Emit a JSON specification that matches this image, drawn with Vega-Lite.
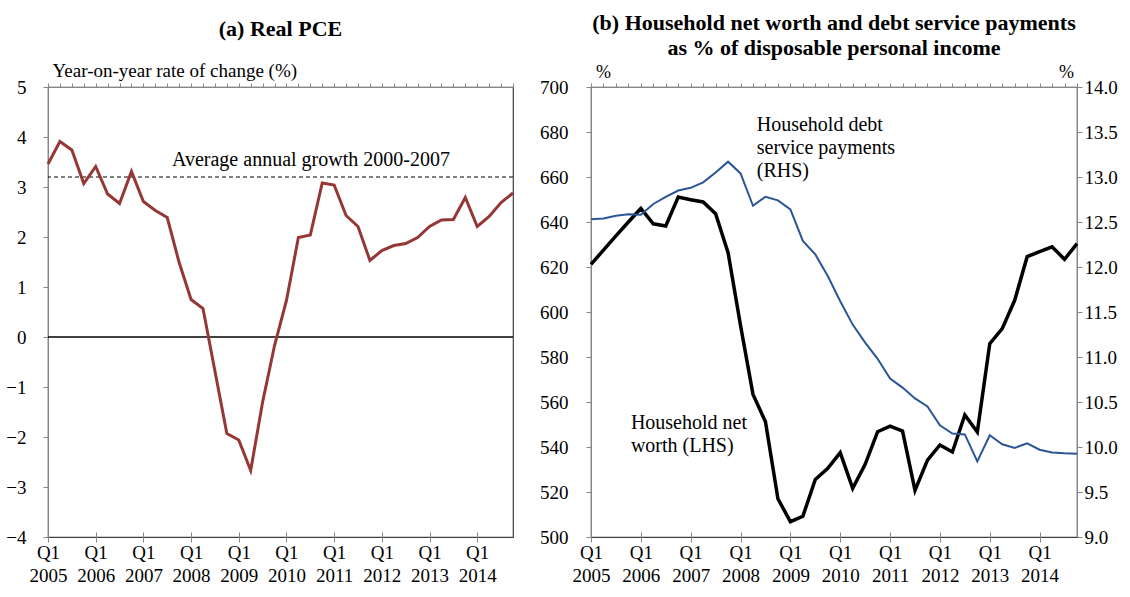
{
  "$schema": "https://vega.github.io/schema/vega-lite/v6.json",
  "padding": {"left": 5, "top": 11, "right": 5, "bottom": 5},
  "background": "white",
  "bounds": "flush",
  "spacing": 78,
  "config": {
    "font": "Liberation Serif",
    "view": {"stroke": "#404040", "strokeWidth": 1.2},
    "style": {"guide-label": {"font": "Liberation Serif"}, "guide-title": {"font": "Liberation Serif"}, "group-title": {"font": "Liberation Serif"}},
    "axis": {"grid": false, "domainColor": "#868686", "tickColor": "#868686", "labelColor": "#000", "labelFontSize": 19, "labelFont": "Liberation Serif", "titleFont": "Liberation Serif", "titleFontWeight": "normal", "titleColor": "#000", "labelOverlap": false, "labelFlush": false, "labelBound": false},
    "title": {"font": "Liberation Serif", "fontSize": 22, "fontWeight": "bold", "color": "#000"},
    "text": {"font": "Liberation Serif", "color": "#000"}
  },
  "datasets": {
    "pce": [
      {"i": 0, "pce": 3.46}, {"i": 1, "pce": 3.91}, {"i": 2, "pce": 3.74}, {"i": 3, "pce": 3.07},
      {"i": 4, "pce": 3.41}, {"i": 5, "pce": 2.86}, {"i": 6, "pce": 2.67}, {"i": 7, "pce": 3.31},
      {"i": 8, "pce": 2.71}, {"i": 9, "pce": 2.53}, {"i": 10, "pce": 2.39}, {"i": 11, "pce": 1.49},
      {"i": 12, "pce": 0.75}, {"i": 13, "pce": 0.57}, {"i": 14, "pce": -0.68}, {"i": 15, "pce": -1.93},
      {"i": 16, "pce": -2.06}, {"i": 17, "pce": -2.67}, {"i": 18, "pce": -1.3}, {"i": 19, "pce": -0.17},
      {"i": 20, "pce": 0.73}, {"i": 21, "pce": 1.99}, {"i": 22, "pce": 2.04}, {"i": 23, "pce": 3.08},
      {"i": 24, "pce": 3.04}, {"i": 25, "pce": 2.43}, {"i": 26, "pce": 2.21}, {"i": 27, "pce": 1.53},
      {"i": 28, "pce": 1.73}, {"i": 29, "pce": 1.83}, {"i": 30, "pce": 1.87}, {"i": 31, "pce": 1.99},
      {"i": 32, "pce": 2.21}, {"i": 33, "pce": 2.34}, {"i": 34, "pce": 2.35}, {"i": 35, "pce": 2.79},
      {"i": 36, "pce": 2.21}, {"i": 37, "pce": 2.41}, {"i": 38, "pce": 2.69}, {"i": 39, "pce": 2.88}
    ],
    "nw": [
      {"i": 0, "nw": 621.2}, {"i": 1, "nw": 627.5}, {"i": 2, "nw": 633.8}, {"i": 3, "nw": 640.0},
      {"i": 4, "nw": 646.0}, {"i": 5, "nw": 639.2}, {"i": 6, "nw": 638.2}, {"i": 7, "nw": 651.1},
      {"i": 8, "nw": 649.9}, {"i": 9, "nw": 648.9}, {"i": 10, "nw": 643.7}, {"i": 11, "nw": 626.4},
      {"i": 12, "nw": 594.0}, {"i": 13, "nw": 563.4}, {"i": 14, "nw": 551.2}, {"i": 15, "nw": 517.0},
      {"i": 16, "nw": 506.8}, {"i": 17, "nw": 509.2}, {"i": 18, "nw": 525.6}, {"i": 19, "nw": 530.5},
      {"i": 20, "nw": 537.5}, {"i": 21, "nw": 521.6}, {"i": 22, "nw": 532.3}, {"i": 23, "nw": 546.8},
      {"i": 24, "nw": 549.3}, {"i": 25, "nw": 547.1}, {"i": 26, "nw": 520.7}, {"i": 27, "nw": 534.2},
      {"i": 28, "nw": 540.9}, {"i": 29, "nw": 537.8}, {"i": 30, "nw": 554.2}, {"i": 31, "nw": 546.7},
      {"i": 32, "nw": 585.9}, {"i": 33, "nw": 592.6}, {"i": 34, "nw": 605.2}, {"i": 35, "nw": 624.6},
      {"i": 36, "nw": 626.8}, {"i": 37, "nw": 629.0}, {"i": 38, "nw": 623.4}, {"i": 39, "nw": 630.4}
    ],
    "dsp": [
      {"i": 0, "dsp": 12.53}, {"i": 1, "dsp": 12.54}, {"i": 2, "dsp": 12.57}, {"i": 3, "dsp": 12.585},
      {"i": 4, "dsp": 12.58}, {"i": 5, "dsp": 12.70}, {"i": 6, "dsp": 12.78}, {"i": 7, "dsp": 12.85},
      {"i": 8, "dsp": 12.88}, {"i": 9, "dsp": 12.94}, {"i": 10, "dsp": 13.05}, {"i": 11, "dsp": 13.17},
      {"i": 12, "dsp": 13.04}, {"i": 13, "dsp": 12.68}, {"i": 14, "dsp": 12.78}, {"i": 15, "dsp": 12.74},
      {"i": 16, "dsp": 12.64}, {"i": 17, "dsp": 12.29}, {"i": 18, "dsp": 12.14}, {"i": 19, "dsp": 11.90},
      {"i": 20, "dsp": 11.62}, {"i": 21, "dsp": 11.36}, {"i": 22, "dsp": 11.16}, {"i": 23, "dsp": 10.98},
      {"i": 24, "dsp": 10.76}, {"i": 25, "dsp": 10.66}, {"i": 26, "dsp": 10.54}, {"i": 27, "dsp": 10.45},
      {"i": 28, "dsp": 10.24}, {"i": 29, "dsp": 10.15}, {"i": 30, "dsp": 10.14}, {"i": 31, "dsp": 9.84},
      {"i": 32, "dsp": 10.13}, {"i": 33, "dsp": 10.03}, {"i": 34, "dsp": 9.99}, {"i": 35, "dsp": 10.04},
      {"i": 36, "dsp": 9.97}, {"i": 37, "dsp": 9.94}, {"i": 38, "dsp": 9.93}, {"i": 39, "dsp": 9.925}
    ]
  },
  "hconcat": [
    {
      "width": 465,
      "height": 450,
      "title": {"text": "(a) Real PCE", "offset": 20},
      "layer": [
        {
          "data": {"values": [{}]},
          "mark": {"type": "rule", "color": "#000", "strokeWidth": 1.3},
          "encoding": {"y": {"datum": 0, "type": "quantitative", "scale": {"domain": [-4, 5], "nice": false},
            "axis": {"values": [-4, -3, -2, -1, 0, 1, 2, 3, 4, 5], "tickSize": 5, "labelPadding": 17, "labelFont": "Liberation Serif", "title": "Year-on-year rate of change (%)", "titleAngle": 0, "titleAlign": "left", "titleBaseline": "alphabetic", "titleX": 4, "titleY": -11, "titleFontSize": 19}}}
        },
        {
          "data": {"values": [{}]},
          "mark": {"type": "rule", "color": "#000", "strokeWidth": 1, "strokeDash": [4, 3]},
          "encoding": {"y": {"datum": 3.2, "type": "quantitative", "scale": {"domain": [-4, 5], "nice": false},
            "axis": {"values": [-4, -3, -2, -1, 0, 1, 2, 3, 4, 5], "tickSize": 5, "labelPadding": 17, "labelFont": "Liberation Serif", "title": "Year-on-year rate of change (%)", "titleAngle": 0, "titleAlign": "left", "titleBaseline": "alphabetic", "titleX": 4, "titleY": -11, "titleFontSize": 19}}}
        },
        {
          "data": {"name": "pce"},
          "mark": {"type": "line", "color": "#953735", "strokeWidth": 3},
          "encoding": {
            "x": {"field": "i", "type": "quantitative", "scale": {"domain": [0, 39], "nice": false},
              "axis": {"values": [0, 4, 8, 12, 16, 20, 24, 28, 32, 36], "domain": false, "tickSize": 10, "offset": -5, "labelPadding": 1, "labelFont": "Liberation Serif", "labelExpr": "['Q1', '' + (2005 + datum.value / 4)]", "labelLineHeight": 23, "labelBaseline": "top", "title": null}},
            "y": {"field": "pce", "type": "quantitative", "scale": {"domain": [-4, 5], "nice": false},
              "axis": {"values": [-4, -3, -2, -1, 0, 1, 2, 3, 4, 5], "tickSize": 5, "labelPadding": 17, "labelFont": "Liberation Serif", "title": "Year-on-year rate of change (%)", "titleAngle": 0, "titleAlign": "left", "titleBaseline": "alphabetic", "titleX": 4, "titleY": -11, "titleFontSize": 19}}
          }
        },
        {
          "data": {"values": [{}]},
          "mark": {"type": "text", "text": "Average annual growth 2000-2007", "align": "left", "baseline": "alphabetic", "fontSize": 20},
          "encoding": {
            "x": {"datum": 10.4, "type": "quantitative", "scale": {"domain": [0, 39], "nice": false},
              "axis": {"values": [0, 1, 2, 3, 4, 5, 6, 7, 8, 9, 10, 11, 12, 13, 14, 15, 16, 17, 18, 19, 20, 21, 22, 23, 24, 25, 26, 27, 28, 29, 30, 31, 32, 33, 34, 35, 36, 37, 38, 39], "tickSize": 4, "labels": false, "title": null}},
            "y": {"datum": 3.42, "type": "quantitative", "scale": {"domain": [-4, 5], "nice": false},
              "axis": {"values": [-4, -3, -2, -1, 0, 1, 2, 3, 4, 5], "tickSize": 5, "labelPadding": 17, "labelFont": "Liberation Serif", "title": "Year-on-year rate of change (%)", "titleAngle": 0, "titleAlign": "left", "titleBaseline": "alphabetic", "titleX": 4, "titleY": -11, "titleFontSize": 19}}
          }
        }
      ],
      "resolve": {"axis": {"x": "independent"}}
    },
    {
      "width": 486,
      "height": 450,
      "title": {"text": ["(b) Household net worth and debt service payments", "as % of disposable personal income"], "lineHeight": 25, "offset": 3},
      "layer": [
        {
          "data": {"name": "nw"},
          "mark": {"type": "line", "color": "#000", "strokeWidth": 3.5},
          "encoding": {
            "x": {"field": "i", "type": "quantitative", "scale": {"domain": [0, 39], "nice": false},
              "axis": {"values": [0, 4, 8, 12, 16, 20, 24, 28, 32, 36], "domain": false, "tickSize": 10, "offset": -5, "labelPadding": 1, "labelFont": "Liberation Serif", "labelExpr": "['Q1', '' + (2005 + datum.value / 4)]", "labelLineHeight": 23, "labelBaseline": "top", "title": null}},
            "y": {"field": "nw", "type": "quantitative", "scale": {"domain": [500, 700], "nice": false},
              "axis": {"orient": "left", "values": [500, 520, 540, 560, 580, 600, 620, 640, 660, 680, 700], "tickSize": 5, "labelPadding": 18, "labelFont": "Liberation Serif", "title": "%", "titleAngle": 0, "titleAlign": "center", "titleBaseline": "alphabetic", "titleX": 12, "titleY": -10, "titleFontSize": 18}}
          }
        },
        {
          "data": {"name": "dsp"},
          "mark": {"type": "line", "color": "#2a5696", "strokeWidth": 2},
          "encoding": {
            "x": {"field": "i", "type": "quantitative", "scale": {"domain": [0, 39], "nice": false},
              "axis": {"values": [0, 1, 2, 3, 4, 5, 6, 7, 8, 9, 10, 11, 12, 13, 14, 15, 16, 17, 18, 19, 20, 21, 22, 23, 24, 25, 26, 27, 28, 29, 30, 31, 32, 33, 34, 35, 36, 37, 38, 39], "tickSize": 4, "labels": false, "title": null}},
            "y": {"field": "dsp", "type": "quantitative", "scale": {"domain": [9, 14], "nice": false},
              "axis": {"orient": "right", "values": [9, 9.5, 10, 10.5, 11, 11.5, 12, 12.5, 13, 13.5, 14], "format": ".1f", "tickSize": 5, "labelPadding": 2, "labelFont": "Liberation Serif", "title": "%", "titleAngle": 0, "titleAlign": "center", "titleBaseline": "alphabetic", "titleX": -11, "titleY": -10, "titleFontSize": 18}}
          }
        },
        {
          "data": {"values": [{}]},
          "mark": {"type": "text", "text": ["Household debt", "service payments", "(RHS)"], "align": "left", "baseline": "alphabetic", "fontSize": 20, "lineHeight": 23},
          "encoding": {
            "x": {"datum": 13.3, "type": "quantitative", "scale": {"domain": [0, 39], "nice": false}, "axis": null},
            "y": {"datum": 680.4, "type": "quantitative", "scale": {"domain": [500, 700], "nice": false}, "axis": null}
          }
        },
        {
          "data": {"values": [{}]},
          "mark": {"type": "text", "text": ["Household net", "worth (LHS)"], "align": "left", "baseline": "alphabetic", "fontSize": 20, "lineHeight": 23},
          "encoding": {
            "x": {"datum": 3.2, "type": "quantitative", "scale": {"domain": [0, 39], "nice": false}, "axis": null},
            "y": {"datum": 548, "type": "quantitative", "scale": {"domain": [500, 700], "nice": false}, "axis": null}
          }
        }
      ],
      "resolve": {"scale": {"y": "independent"}, "axis": {"x": "independent"}}
    }
  ]
}
